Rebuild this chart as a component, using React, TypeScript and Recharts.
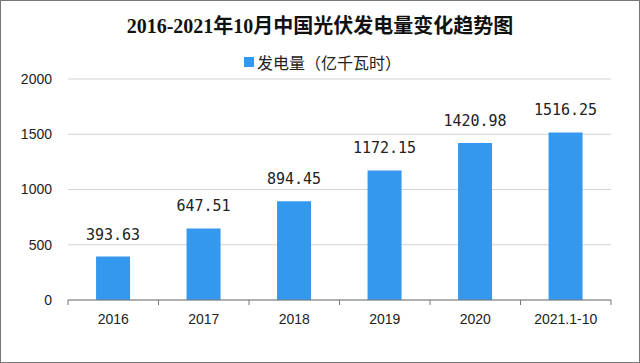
import React from "react";
import { BarChart, Bar, XAxis, YAxis, CartesianGrid, LabelList } from "recharts";

const categories = ["2016", "2017", "2018", "2019", "2020", "2021.1-10"];
const generation = [393.63, 647.51, 894.45, 1172.15, 1420.98, 1516.25];
const yTicks = [0, 500, 1000, 1500, 2000];
const seriesName = "发电量（亿千瓦时）";
const title = "2016-2021年10月中国光伏发电量变化趋势图";
const barColor = "#3498ee";

const data = categories.map((c, i) => ({ name: c, value: generation[i] }));

const XTick = (props: any) => {
  const { x, y, payload, index, visibleTicksCount, width } = props;
  const band = width / visibleTicksCount;
  const axisY = y - 14;
  return (
    <g>
      <line x1={x - band / 2} x2={x - band / 2} y1={axisY} y2={axisY + 5} stroke="#777" />
      {index === visibleTicksCount - 1 && (
        <line x1={x + band / 2} x2={x + band / 2} y1={axisY} y2={axisY + 5} stroke="#777" />
      )}
      <text x={x} y={y} dy={10} textAnchor="middle" fill="#222" fontSize={14} fontFamily="'Liberation Sans', sans-serif">
        {payload.value}
      </text>
    </g>
  );
};

export default function App() {
  return (
    <div
      style={{
        position: "absolute",
        left: 0,
        top: 0,
        width: 640,
        height: 363,
        boxSizing: "border-box",
        border: "1px solid #777",
        background: "#fff",
        overflow: "hidden",
      }}
    >
      <div
        style={{
          position: "absolute",
          left: 0,
          width: 638,
          top: 12,
          textAlign: "center",
          fontFamily: "'Liberation Serif', 'Noto Sans CJK SC', serif",
          fontWeight: "bold",
          fontSize: 20,
          color: "#111",
          lineHeight: "26px",
        }}
      >
        {title}
      </div>
      <div
        style={{
          position: "absolute",
          left: 243,
          top: 50,
          display: "flex",
          alignItems: "center",
          fontFamily: "'Noto Sans CJK SC', sans-serif",
          fontSize: 16,
          color: "#222",
          lineHeight: "22px",
        }}
      >
        <span style={{ display: "inline-block", width: 10, height: 10, background: barColor, marginRight: 3 }} />
        <span>{seriesName}</span>
      </div>
      <div style={{ position: "absolute", left: -1, top: -1 }}>
        <BarChart
          width={640}
          height={363}
          data={data}
          margin={{ top: 79, right: 29, bottom: 33, left: 0 }}
          barCategoryGap="31%"
        >
          <CartesianGrid vertical={false} stroke="#d4d4d4" />
          <XAxis
            dataKey="name"
            height={30}
            tickLine={false}
            tickSize={0}
            tickMargin={14}
            axisLine={{ stroke: "#777" }}
            tick={<XTick />}
            interval={0}
          />
          <YAxis
            width={68}
            domain={[0, 2000]}
            ticks={yTicks}
            axisLine={false}
            tickLine={false}
            tickMargin={10}
            tick={{ fill: "#222", fontSize: 14, fontFamily: "'Liberation Sans', sans-serif" }}
          />
          <Bar dataKey="value" name={seriesName} fill={barColor} isAnimationActive={false}>
            <LabelList
              dataKey="value"
              position="top"
              offset={17}
              formatter={(v: any) => Number(v).toFixed(2)}
              style={{ fill: "#222", fontSize: 15, fontFamily: "'DejaVu Sans Mono', monospace" }}
            />
          </Bar>
        </BarChart>
      </div>
    </div>
  );
}
